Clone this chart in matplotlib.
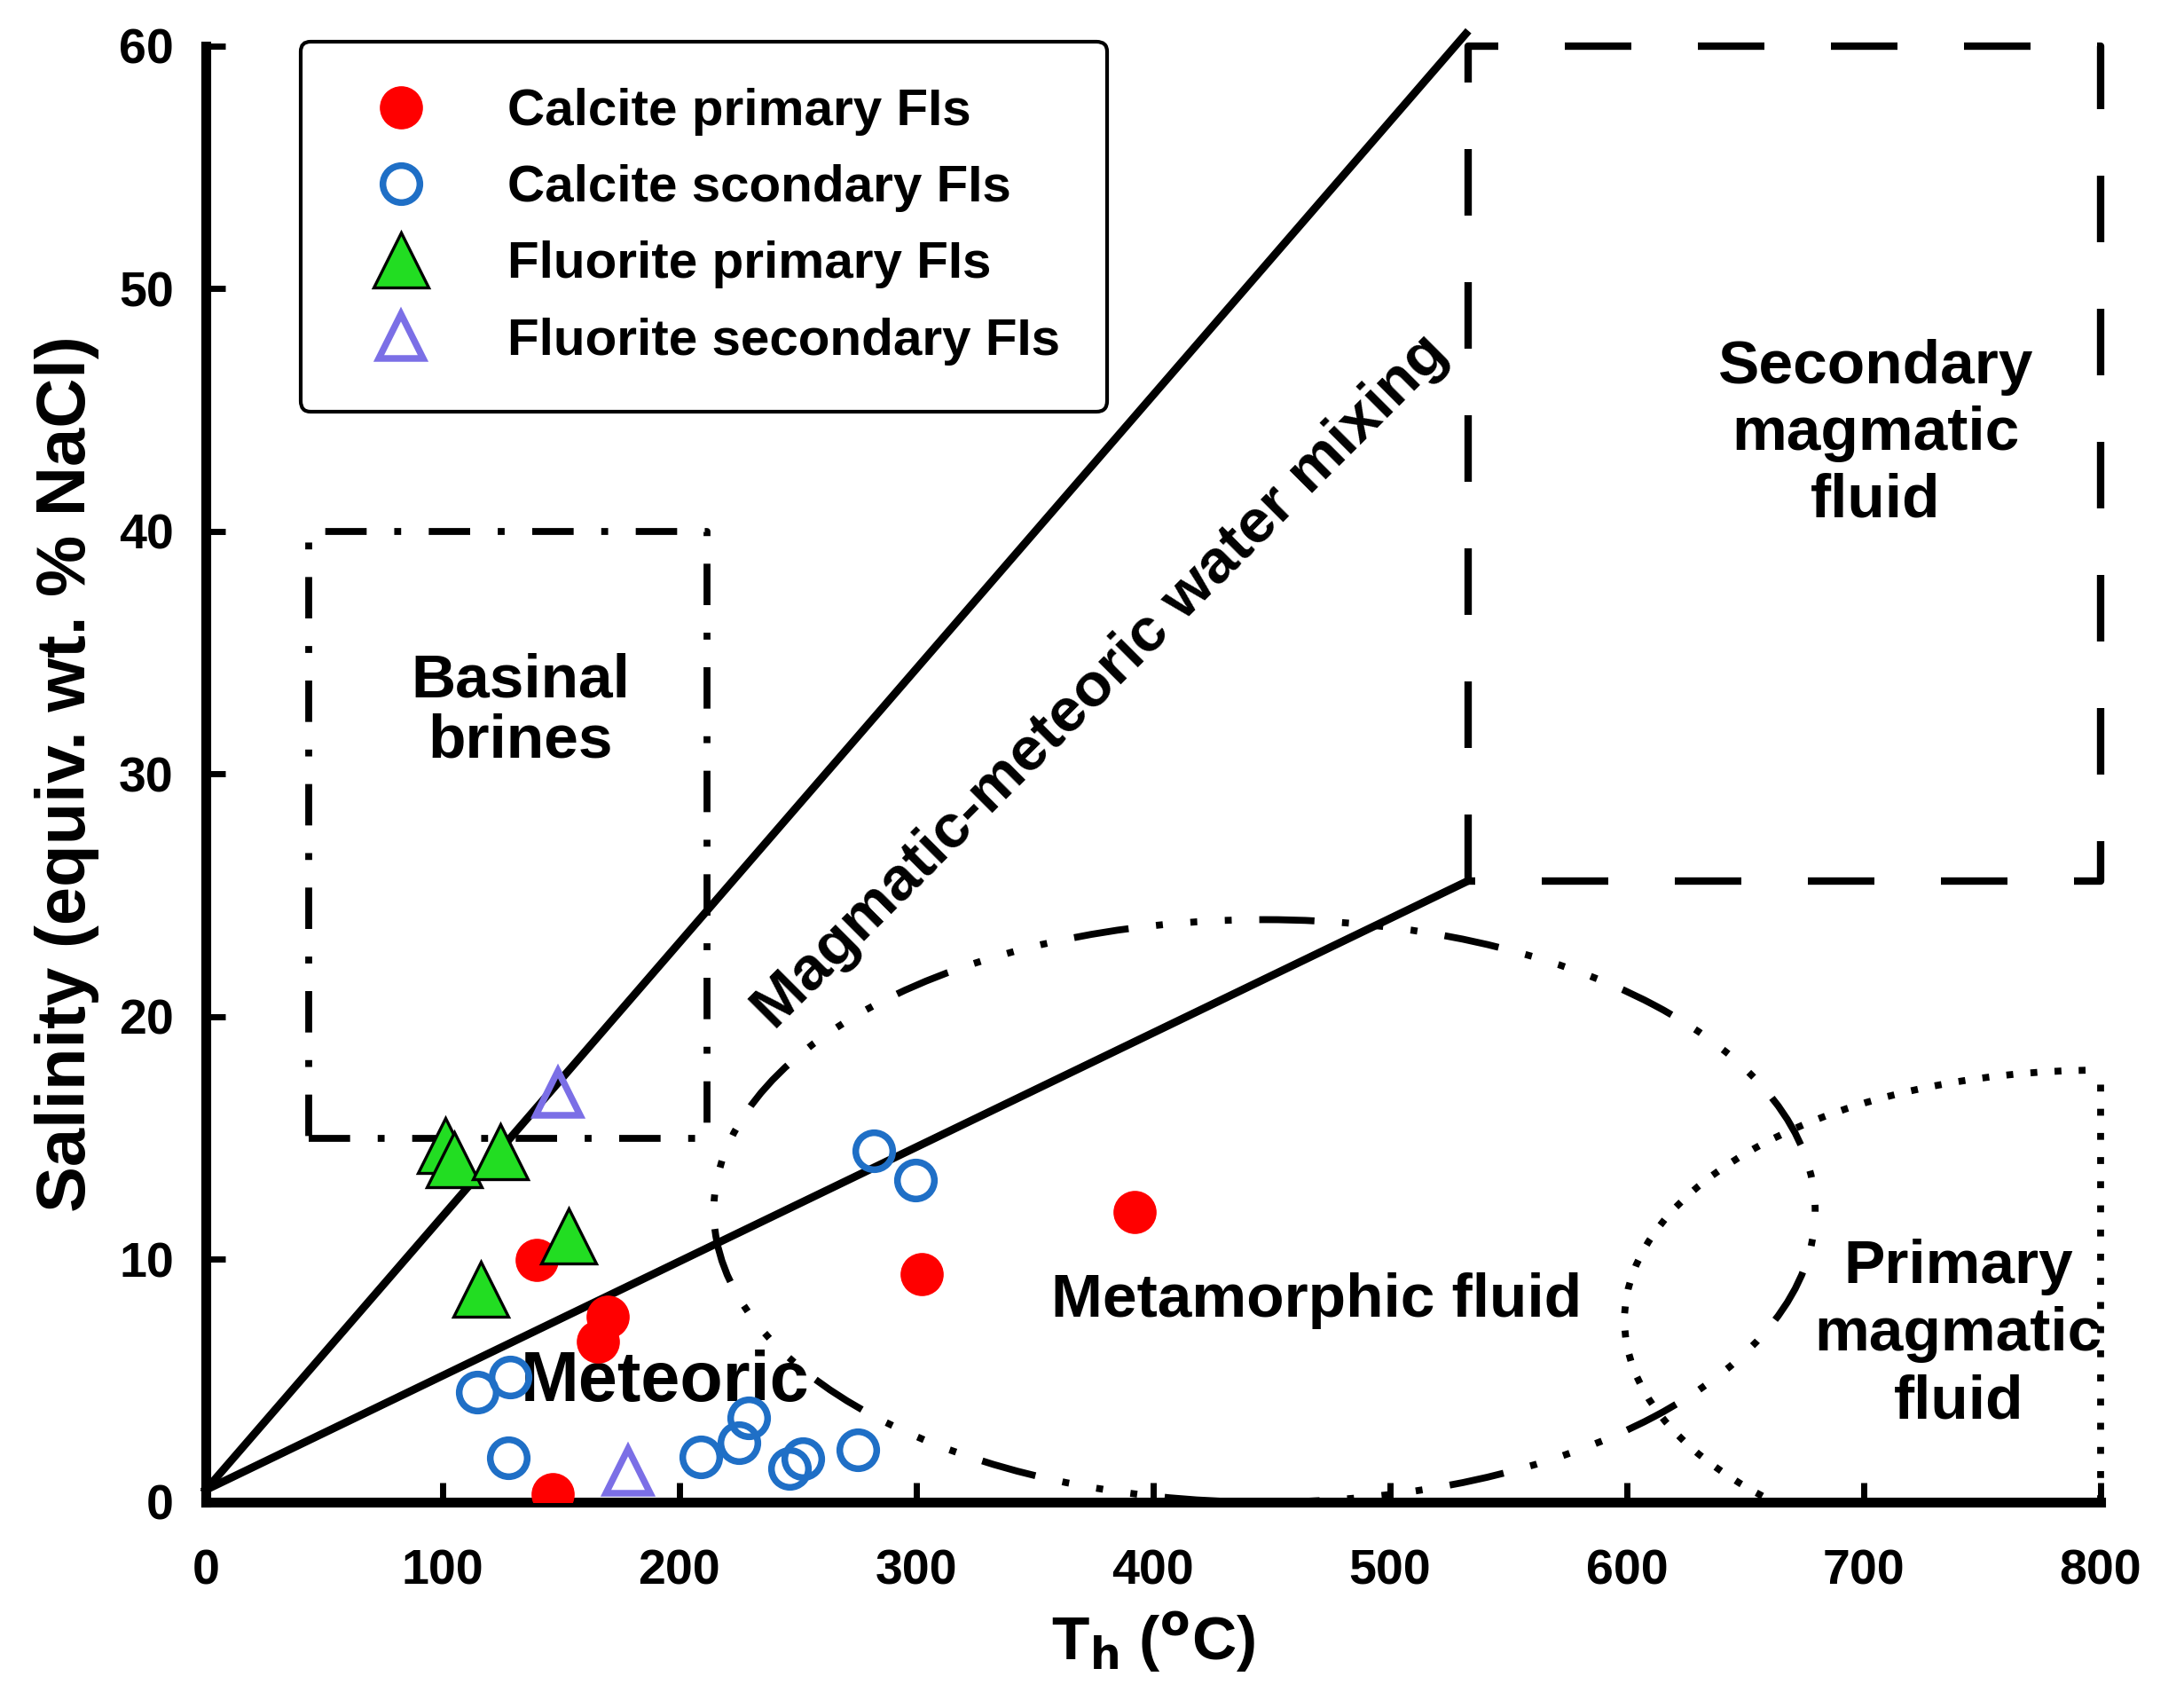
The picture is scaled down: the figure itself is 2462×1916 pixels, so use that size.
import matplotlib
matplotlib.use("Agg")
import matplotlib.pyplot as plt
from matplotlib.patches import Ellipse

plt.rcParams["font.family"] = ["Liberation Sans", "DejaVu Sans"]
plt.rcParams["font.weight"] = "bold"

# homogenization temperature (oC) / salinity (wt.% NaCl eq.)
calcite_pri_th = [139.9, 169.8, 165.7, 146.6, 302.1, 392.2]
calcite_pri_sal = [9.99, 7.64, 6.63, 0.34, 9.39, 11.96]

calcite_sec_th = [114.5, 128.5, 127.9, 209.1, 225.3, 229.1, 246.4, 252.0, 275.3, 281.9, 299.6]
calcite_sec_sal = [4.54, 5.17, 1.81, 1.88, 2.44, 3.48, 1.39, 1.80, 2.17, 14.47, 13.26]

fluorite_pri_th = [101.0, 104.9, 124.3, 153.2, 116.1]
fluorite_pri_sal = [14.7, 14.1, 14.45, 10.97, 8.77]

fluorite_sec_th = [148.9, 178.2]
fluorite_sec_sal = [16.84, 1.29]

# field boundaries
upper_line_th = [0, 532]
upper_line_sal = [0.5, 60.5]
lower_line_th = [0, 533]
lower_line_sal = [0.5, 25.6]
basinal_th = [43.5, 211.5]
basinal_sal = [15.0, 40.0]
sec_magmatic_th = [533, 800]
sec_magmatic_sal = [25.6, 60.0]
meta_center = (447, 12.0)
meta_size = (465, 24.0)
prim_center = (800, 7.5)
prim_size = (402, 20.6)
prim_top = 17.8

fig = plt.figure(figsize=(12.31, 9.58), dpi=200)
ax = fig.add_axes([0.0942, 0.1164, 0.8676, 0.8566])

ax.set_xlim(0, 800)
ax.set_ylim(0, 60)

# mixing lines
ax.plot(upper_line_th, upper_line_sal, color="black", lw=3.2, clip_on=False)
ax.plot(lower_line_th, lower_line_sal, color="black", lw=3.2, clip_on=False)

# basinal brines box (dash-dot)
x0, x1 = basinal_th
y0, y1 = basinal_sal
ax.plot([x0, x1, x1, x0, x0], [y0, y0, y1, y1, y0], color="black", lw=2.8,
        linestyle=(0, (6, 4, 1, 4)))

# secondary magmatic box (dashed)
x0, x1 = sec_magmatic_th
y0, y1 = sec_magmatic_sal
ax.plot([x0, x0, x1, x1, x0], [y0, y1, y1, y0, y0], color="black", lw=3.0,
        linestyle=(0, (9, 9)), clip_on=False)

# metamorphic fluid ellipse (dash-dot-dot)
meta = Ellipse(meta_center, meta_size[0], meta_size[1], fill=False, edgecolor="black",
               lw=2.8, linestyle=(0, (8, 4, 1, 4, 1, 4, 1, 4)))
ax.add_patch(meta)

# primary magmatic fluid (dotted)
prim = Ellipse(prim_center, prim_size[0], prim_size[1], fill=False, edgecolor="black",
               lw=2.8, linestyle=(0, (1, 2.5)))
ax.add_patch(prim)
ax.plot([800, 800], [0, prim_top], color="black", lw=2.8, linestyle=(0, (1, 2.5)),
        clip_on=False)

# data
ax.plot(calcite_pri_th, calcite_pri_sal, "o", ms=17, mfc="#ff0000", mec="#ff0000",
        mew=0.5, ls="none", label="Calcite primary FIs", zorder=5)
ax.plot(calcite_sec_th, calcite_sec_sal, "o", ms=15, mfc="none", mec="#1f6fc6",
        mew=2.7, ls="none", label="Calcite scondary FIs", zorder=5)
ax.plot(fluorite_pri_th, fluorite_pri_sal, "^", ms=22, mfc="#22dd22", mec="black",
        mew=1.2, ls="none", label="Fluorite primary FIs", zorder=5)
ax.plot(fluorite_sec_th, fluorite_sec_sal, "^", ms=18, mfc="none", mec="#7b6fe6",
        mew=2.7, ls="none", label="Fluorite secondary FIs", zorder=5)

# region labels
ax.text(133, 32.6, "Basinal\nbrines", ha="center", va="center", fontsize=25,
        fontweight="bold", linespacing=1.08)
ax.text(378, 33.8, "Magmatic-meteoric water mixing", ha="center", va="center",
        fontsize=25, fontweight="bold", rotation=45, rotation_mode="anchor")
ax.text(705, 44.0, "Secondary\nmagmatic\nfluid", ha="center", va="center",
        fontsize=25, fontweight="bold", linespacing=1.22)
ax.text(469, 8.3, "Metamorphic fluid", ha="center", va="center", fontsize=25,
        fontweight="bold")
ax.text(194, 4.9, "Meteoric", ha="center", va="center", fontsize=28.5,
        fontweight="bold")
ax.text(740, 6.9, "Primary\nmagmatic\nfluid", ha="center", va="center",
        fontsize=25, fontweight="bold", linespacing=1.25)

# axes styling
for side in ["top", "right"]:
    ax.spines[side].set_visible(False)
for side in ["left", "bottom"]:
    ax.spines[side].set_linewidth(4)
ax.set_xticks(range(0, 801, 100))
ax.set_yticks(range(0, 61, 10))
ax.tick_params(direction="in", length=8, width=2.5, labelsize=20)
ax.tick_params(axis="x", pad=19)
ax.tick_params(axis="y", pad=13)
for lab in ax.get_xticklabels() + ax.get_yticklabels():
    lab.set_fontweight("bold")

ax.set_xlabel(r"T$_\mathbf{h}$ ($^\mathbf{o}$C)", fontsize=25, fontweight="bold", labelpad=6)
ax.set_ylabel("Salinity (equiv. wt. % NaCl)", fontsize=28, fontweight="bold", labelpad=8)

leg = ax.legend(loc="upper left", bbox_to_anchor=(0.05, 1.003), borderaxespad=0,
                prop={"size": 21, "weight": "bold"}, frameon=True, fancybox=True,
                handlelength=2.1, handletextpad=1.0, labelspacing=0.55, borderpad=0.9)
leg.get_frame().set_edgecolor("black")
leg.get_frame().set_linewidth(1.5)
leg.get_frame().set_alpha(1)

fig.savefig("out.png", dpi=200)
